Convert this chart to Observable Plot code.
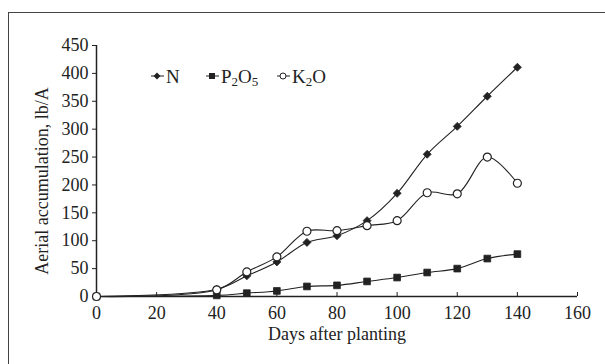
<!DOCTYPE html>
<html>
<head>
<meta charset="utf-8">
<script src="https://cdn.jsdelivr.net/npm/d3@7"></script>
<script src="https://cdn.jsdelivr.net/npm/@observablehq/plot@0.6"></script>
<style>
  html, body { margin: 0; padding: 0; background: #fff; }
  #wrap { position: relative; width: 605px; height: 364px; overflow: hidden; font-family: "Liberation Serif", "Times New Roman", serif; color: #222; }
  #frame { position: absolute; left: 8px; top: 12px; width: 700px; height: 400px; border: 1px solid #444; box-sizing: border-box; }
  #chart { position: absolute; left: 0; top: 0; }
  .title { position: absolute; font-size: 18px; white-space: nowrap; }
  .legend-item { position: absolute; top: 64px; height: 24px; display: flex; align-items: center; font-size: 19px; line-height: 19px; }
  .legend-item svg { margin-right: 2px; }
  sub { font-size: 13px; vertical-align: -3px; line-height: 0; }
</style>
</head>
<body>
<div id="wrap">
  <div id="frame"></div>
  <div id="chart"></div>
</div>
<script>
// ---- data ----
const days = [0, 40, 50, 60, 70, 80, 90, 100, 110, 120, 130, 140];
const nValues = [0, 13, 37, 62, 97, 109, 136, 185, 255, 305, 359, 411];
const p2o5Values = [0, 2, 6, 10, 18, 20, 27, 34, 43, 50, 68, 76];
const k2oValues = [0, 12, 44, 71, 117, 118, 127, 136, 186, 184, 250, 203];
const seriesNames = ["N", "P2O5", "K2O"];
const seriesLabels = ["N", "P<sub>2</sub>O<sub>5</sub>", "K<sub>2</sub>O"];
const xTicks = [0, 20, 40, 60, 80, 100, 120, 140, 160];
const yTicks = [0, 50, 100, 150, 200, 250, 300, 350, 400, 450];
const xTitle = "Days after planting";
const yTitle = "Aerial accumulation, lb/A";

const seriesValues = {N: nValues, P2O5: p2o5Values, K2O: k2oValues};
const rows = seriesNames.flatMap(s => days.map((d, i) => ({series: s, day: d, value: seriesValues[s][i]})));
const styleOf = {
  N: {symbol: "diamond2", r: 3.6, fill: "#222"},
  P2O5: {symbol: "square", r: 3.8, fill: "#222"},
  K2O: {symbol: "circle", r: 4, fill: "#fff"}
};

const chart = Plot.plot({
  width: 605,
  height: 364,
  marginLeft: 96,
  marginRight: 28,
  marginTop: 45,
  marginBottom: 68,
  style: {fontFamily: "'Liberation Serif', 'Times New Roman', serif", fontSize: "18px", color: "#222", background: "transparent"},
  x: {domain: [0, 160]},
  y: {domain: [0, 450]},
  marks: [
    Plot.axisY(yTicks, {tickSize: 4, tickPadding: 4, stroke: "#222", fill: "#222", fontSize: 18, label: null}),
    Plot.axisX(xTicks, {tickSize: -4, tickPadding: 14, stroke: "#222", fill: "#222", fontSize: 18, label: null}),
    Plot.ruleY([0], {stroke: "#222", strokeWidth: 1.5}),
    Plot.ruleX([0], {stroke: "#222", strokeWidth: 1.5}),
    Plot.line(rows, {x: "day", y: "value", z: "series", curve: "catmull-rom", stroke: "#222", strokeWidth: 1.1}),
    ...seriesNames.map(s => Plot.dot(rows.filter(d => d.series === s), {
      x: "day", y: "value", symbol: () => styleOf[s].symbol, r: styleOf[s].r,
      fill: styleOf[s].fill, stroke: "#222", strokeWidth: s === "K2O" ? 1.2 : 0.8
    }))
  ]
});
document.getElementById("chart").appendChild(chart);

const wrap = document.getElementById("wrap");
// axis titles
const xt = document.createElement("div");
xt.className = "title"; xt.textContent = xTitle;
xt.style.left = "337px"; xt.style.top = "334px"; xt.style.transform = "translate(-50%, -50%)";
wrap.appendChild(xt);
const yt = document.createElement("div");
yt.className = "title"; yt.textContent = yTitle;
yt.style.left = "42px"; yt.style.top = "181px"; yt.style.transform = "translate(-50%, -50%) rotate(-90deg)";
wrap.appendChild(yt);

// legend
const legendLeft = [151, 206, 277];
const symbolSvg = {
  N: '<path d="M6,2.5 L9.5,6 L6,9.5 L2.5,6 Z" fill="#222"/>',
  P2O5: '<rect x="3" y="3" width="6" height="6" fill="#222"/>',
  K2O: '<circle cx="6" cy="6" r="3" fill="#fff" stroke="#222" stroke-width="1"/>'
};
seriesNames.forEach((s, i) => {
  const item = document.createElement("div");
  item.className = "legend-item";
  item.style.left = legendLeft[i] + "px";
  item.innerHTML = `<svg width="13" height="12" viewBox="0 0 13 12"><line x1="0" y1="6" x2="13" y2="6" stroke="#222" stroke-width="1"/>${symbolSvg[s]}</svg><span>${seriesLabels[i]}</span>`;
  wrap.appendChild(item);
});
</script>
</body>
</html>
